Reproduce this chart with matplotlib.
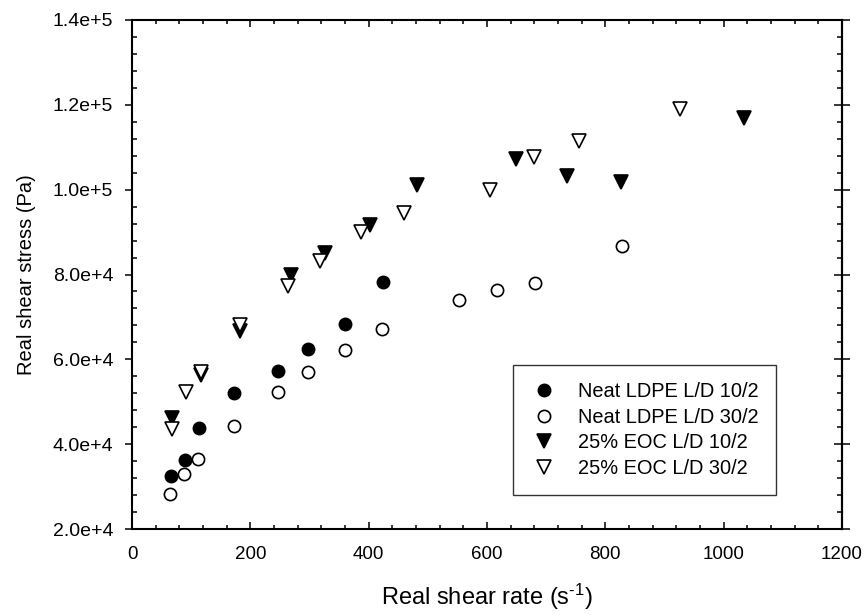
import numpy as np
import matplotlib
matplotlib.use("Agg")
import matplotlib.pyplot as plt
from matplotlib.ticker import MultipleLocator, FuncFormatter

plt.rcParams["font.family"] = ["Liberation Sans", "DejaVu Sans"]
plt.rcParams["mathtext.fontset"] = "custom"
plt.rcParams["mathtext.rm"] = "Liberation Sans"
plt.rcParams["mathtext.default"] = "regular"

# --- Neat LDPE, L/D 10/2 ---
ldpe10_rate = [66, 90, 113, 173, 246, 297, 360, 424]
ldpe10_stress = [32500, 36300, 43800, 52100, 57300, 62400, 68300, 78200]

# --- Neat LDPE, L/D 30/2 ---
ldpe30_rate = [65, 88, 112, 173, 246, 297, 360, 423, 552, 617, 681, 828]
ldpe30_stress = [28300, 33000, 36600, 44300, 52300, 57000, 62200, 67100, 73900, 76400, 77900, 86800]

# --- 25% EOC, L/D 10/2 ---
eoc10_rate = [67, 116, 183, 268, 327, 403, 482, 649, 736, 826, 1034]
eoc10_stress = [46100, 56300, 66700, 79800, 85000, 91600, 101100, 107200, 103300, 101800, 116900]

# --- 25% EOC, L/D 30/2 ---
eoc30_rate = [67, 92, 117, 183, 263, 317, 387, 459, 605, 680, 756, 927]
eoc30_stress = [43500, 52400, 57100, 68000, 77300, 83200, 90000, 94500, 99900, 107600, 111500, 118900]

labels = ["Neat LDPE L/D 10/2", "Neat LDPE L/D 30/2", "25% EOC L/D 10/2", "25% EOC L/D 30/2"]

W, H = 867, 615
fig = plt.figure(figsize=(W / 100, H / 100), dpi=100)
ax = fig.add_axes([132 / W, (H - 529) / H, 710 / W, 509 / H])

ms_c, ms_t = 8.8, 9.6
ax.plot(ldpe10_rate, ldpe10_stress, "o", ms=ms_c, mfc="black", mec="black", mew=1.2, label=labels[0])
ax.plot(ldpe30_rate, ldpe30_stress, "o", ms=ms_c, mfc="white", mec="black", mew=1.2, label=labels[1])
ax.plot(eoc10_rate, eoc10_stress, "v", ms=ms_t, mfc="black", mec="black", mew=1.2, label=labels[2])
ax.plot(eoc30_rate, eoc30_stress, "v", ms=ms_t, mfc="white", mec="black", mew=1.2, label=labels[3])

ax.set_xlim(0, 1200)
ax.set_ylim(2e4, 1.4e5)
ax.xaxis.set_major_locator(MultipleLocator(200))
ax.xaxis.set_minor_locator(MultipleLocator(40))
ax.yaxis.set_major_locator(MultipleLocator(2e4))
ax.yaxis.set_minor_locator(MultipleLocator(4e3))


def sci(v, pos):
    if v <= 0:
        return "0"
    e = int(np.floor(np.log10(v) + 1e-9))
    return f"{v / 10 ** e:.1f}e+{e}"


ax.yaxis.set_major_formatter(FuncFormatter(sci))

for s in ax.spines.values():
    s.set_linewidth(1.5)

ax.tick_params(axis="x", which="major", direction="in", length=5, width=1.1, pad=12, labelsize=13.5, top=True)
ax.tick_params(axis="x", which="minor", direction="in", length=3.2, width=1.1, top=True)
ax.tick_params(axis="y", which="major", direction="out", length=5, width=1.1, pad=8.5, labelsize=14)
ax.tick_params(axis="y", which="minor", direction="in", length=3.6, width=1.1)

# right-hand ticks cross the frame
rax = ax.secondary_yaxis("right")
rax.yaxis.set_major_locator(MultipleLocator(2e4))
rax.yaxis.set_minor_locator(MultipleLocator(4e3))
rax.tick_params(which="major", direction="inout", length=11.5, width=1.1, labelright=False)
rax.tick_params(which="minor", direction="in", length=3.6, width=1.1)
rax.spines["right"].set_linewidth(1.5)

ax.set_xlabel(r"Real shear rate (s$^{\text{-1}}$)", fontsize=17, labelpad=14)
ax.set_ylabel("Real shear stress (Pa)", fontsize=14.5, labelpad=12)

leg = ax.legend(loc="upper left", bbox_to_anchor=(513 / W, 1 - 365 / H), bbox_transform=fig.transFigure,
                fontsize=14.4, frameon=True, fancybox=False, edgecolor="black", borderaxespad=0,
                handlelength=1.4, handletextpad=1.0, labelspacing=0.33, borderpad=0.85)
leg.get_frame().set_linewidth(1.0)

fig.savefig("out.png", dpi=100)
